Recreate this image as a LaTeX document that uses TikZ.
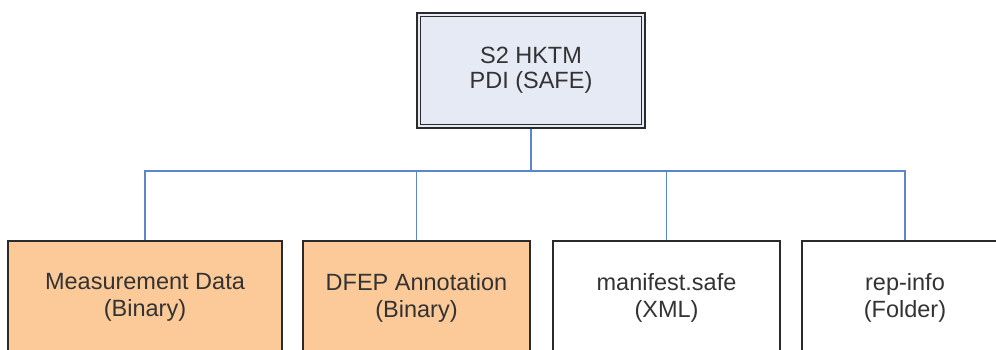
\documentclass[tikz,border=0pt]{standalone}
\usepackage{fontspec}
\setmainfont{Liberation Sans}
\definecolor{txt}{HTML}{333333}
\definecolor{conn}{HTML}{5B86C9}
\definecolor{orangefill}{HTML}{FCC998}
\definecolor{topfill}{HTML}{E5EAF4}
\definecolor{bord}{HTML}{2B2B2B}
\begin{document}
\begin{tikzpicture}[x=1pt,y=1pt,
  boxtext/.style={text=txt,align=center},
  leafbox/.style={boxtext,font=\fontsize{23.5}{27}\selectfont,draw=bord,line width=1.6pt,minimum height=114pt,inner sep=0pt,anchor=north},
  conline/.style={draw=conn,line width=1.6pt}]
\useasboundingbox (0,0) rectangle (996,-349);
\clip (0,0) rectangle (996,-349);
\fill[white] (0,0) rectangle (996,-349);
% top box
\node[boxtext,font=\fontsize{23.5}{25}\selectfont,fill=topfill,draw=bord,line width=2.2pt,minimum width=228pt,minimum height=115pt,inner sep=0pt] (top) at (531,-70.5) {S2 HKTM\\PDI (SAFE)};
\draw[bord,line width=1pt] ([shift={(5,-5)}]top.north west) rectangle ([shift={(-5,5)}]top.south east);
% leaf boxes
\node[leafbox,fill=orangefill,minimum width=274pt] (b1) at (145,-240) {Measurement Data\\(Binary)};
\node[leafbox,fill=orangefill,minimum width=227pt] (b2) at (416.5,-240) {DFEP Annotation\\(Binary)};
\node[leafbox,fill=white,minimum width=227pt] (b3) at (666.5,-240) {manifest.safe\\(XML)};
\node[leafbox,fill=white,minimum width=206pt] (b4) at (905,-240) {rep-info\\(Folder)};
% connectors
\coordinate (bus) at (531,-171);
\draw[conline] (top.south) -- (bus);
\draw[conline] (bus) -| (b1.north);
\draw[conline] (bus) -| (b2.north);
\draw[conline] (bus) -| (b3.north);
\draw[conline] (bus) -| (b4.north);
\end{tikzpicture}
\end{document}
